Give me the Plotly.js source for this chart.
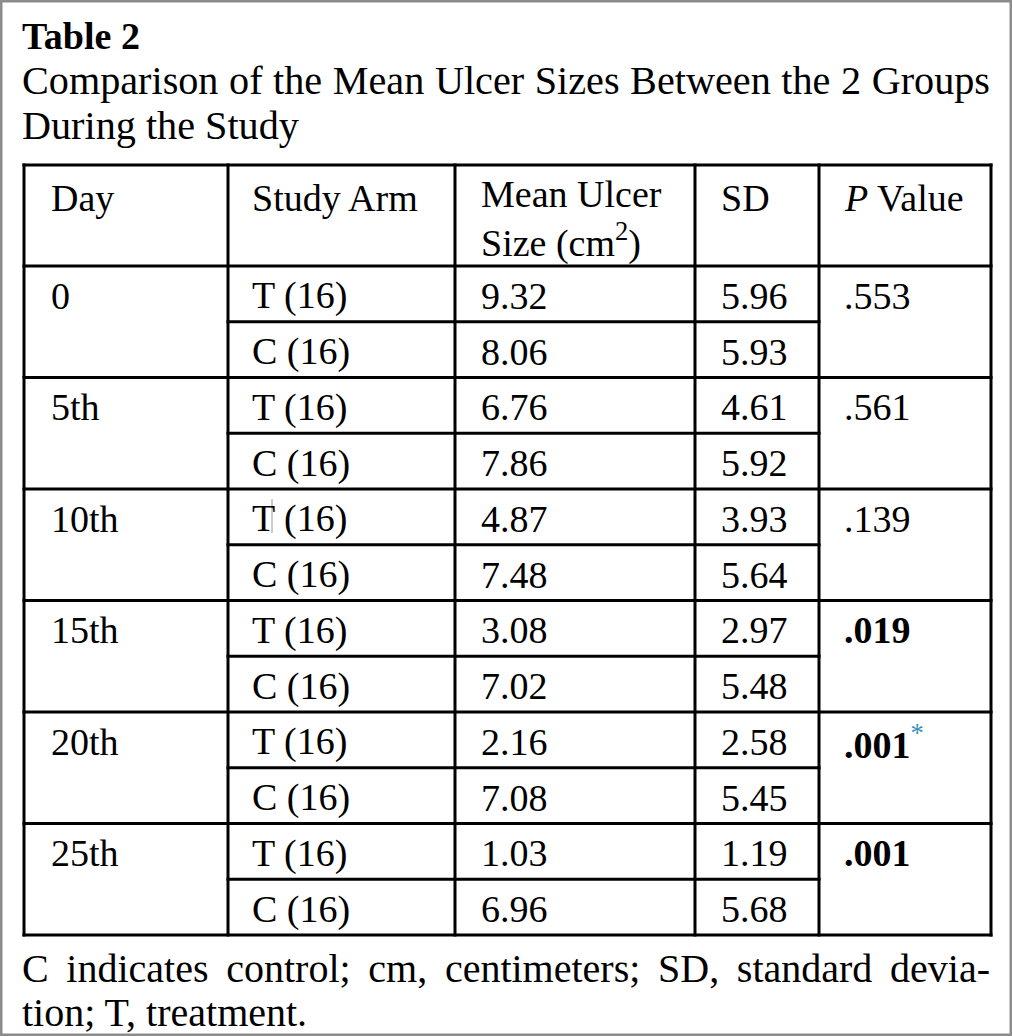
<!DOCTYPE html>
<html>
<head>
<meta charset="utf-8">
<script src="https://cdn.plot.ly/plotly-3.0.1.min.js"></script>
<style>html,body{margin:0;padding:0;background:#fff;}</style>
</head>
<body>
<div id="chart" style="width:1012px;height:1036px;"></div>
<script>
// ---- data ----
var tableLabel = "Table 2";
var titleLines = ["Comparison of the Mean Ulcer Sizes Between the 2 Groups", "During the Study"];
var headers = ["Day", "Study Arm", "Mean Ulcer<br>Size (cm<sup>2</sup>)", "SD", "<i>P</i> Value"];
var days = ["0", "5th", "10th", "15th", "20th", "25th"];
var arms = ["T (16)", "C (16)"];
var meanT = [9.32, 6.76, 4.87, 3.08, 2.16, 1.03];
var meanC = [8.06, 7.86, 7.48, 7.02, 7.08, 6.96];
var sdT = [5.96, 4.61, 3.93, 2.97, 2.58, 1.19];
var sdC = [5.93, 5.92, 5.64, 5.48, 5.45, 5.68];
var pValues = [".553", ".561", ".139", ".019", ".001", ".001"];
var pSignificant = [false, false, false, true, true, true];
var pMark = ["", "", "", "", "*", ""];
var footnoteLines = ["C indicates control; cm, centimeters; SD, standard devia-", "tion; T, treatment."];

// ---- layout geometry ----
var W = 1012, H = 1036;
var colX = [24, 228, 455, 695, 819, 991];
var textX = [49, 250, 479, 719, 842];
var tableTop = 165, headerBottom = 266, rowH = 55.75;
var FONT = "Liberation Serif";
var lineW = 3;

var shapes = [];
var annotations = [];

function ann(x, y, text, size, opts) {
  var a = {x: x, y: y, xref: "x", yref: "y", text: text, showarrow: false,
    xanchor: "left", yanchor: "middle", align: "left",
    font: {family: FONT, size: size, color: "#000"}};
  if (opts) for (var k in opts) a[k] = opts[k];
  annotations.push(a);
  return annotations.length - 1;
}
function hline(x0, x1, y) {
  shapes.push({type: "line", xref: "x", yref: "y", x0: x0 - 1.5, x1: x1 + 1.5, y0: y, y1: y,
    line: {color: "#000", width: lineW}});
}
function vline(x, y0, y1) {
  shapes.push({type: "line", xref: "x", yref: "y", x0: x, x1: x, y0: y0 - 1.5, y1: y1 + 1.5,
    line: {color: "#000", width: lineW}});
}

var nRows = days.length * arms.length;
var tableBottom = headerBottom + nRows * rowH;

// outer grey frame
shapes.push({type: "rect", xref: "paper", yref: "paper", x0: 0, x1: 1, y0: 0, y1: 1,
  line: {color: "#8c8c8c", width: 5}});

// table grid
hline(colX[0], colX[5], tableTop);
hline(colX[0], colX[5], headerBottom);
for (var i = 1; i <= nRows; i++) {
  var y = headerBottom + i * rowH;
  if (i % 2 === 0) hline(colX[0], colX[5], y);
  else hline(colX[1], colX[4], y);
}
for (var c = 0; c < colX.length; c++) vline(colX[c], tableTop, tableBottom);

// small cursor artefact next to "T" in the 10th-day row
shapes.push({type: "line", xref: "x", yref: "y", x0: 272, x1: 272,
  y0: headerBottom + 4 * rowH + 10, y1: headerBottom + 4 * rowH + 44,
  line: {color: "#9a9a9a", width: 1}});

// titles
ann(20, 36, "<b>" + tableLabel + "</b>", 38);
var titleIdx = ann(20, 80, titleLines[0], 40.2);
ann(20, 125, titleLines[1], 40.2);

// headers
ann(textX[0], 198, headers[0], 38);
ann(textX[1], 198, headers[1], 38);
ann(textX[2], 219, headers[2], 38);
ann(textX[3], 198, headers[3], 38);
ann(textX[4], 198, headers[4], 38);

// body
for (var d = 0; d < days.length; d++) {
  var yT = headerBottom + (2 * d) * rowH + rowH / 2 + 2;
  var yC = headerBottom + (2 * d + 1) * rowH + rowH / 2 + 2;
  ann(textX[0], yT, days[d], 38);
  ann(textX[1], yT, arms[0], 38);
  ann(textX[1], yC, arms[1], 38);
  ann(textX[2], yT, meanT[d].toFixed(2), 38);
  ann(textX[2], yC, meanC[d].toFixed(2), 38);
  ann(textX[3], yT, sdT[d].toFixed(2), 38);
  ann(textX[3], yC, sdC[d].toFixed(2), 38);
  var pt = pSignificant[d] ? "<b>" + pValues[d] + "</b>" : pValues[d];
  if (pMark[d]) pt += "<span style=\"color:#3a8fba\"><sup>" + pMark[d] + "</sup></span>";
  ann(textX[4], yT, pt, 38);
}

// footnote
var footIdx = ann(20, 968, footnoteLines[0], 40);
ann(20, 1012, footnoteLines[1], 40);

var layout = {
  width: W, height: H,
  margin: {l: 0, r: 0, t: 0, b: 0, pad: 0},
  paper_bgcolor: "#fff", plot_bgcolor: "#fff",
  showlegend: false,
  xaxis: {range: [0, W], visible: false, fixedrange: true},
  yaxis: {range: [H, 0], visible: false, fixedrange: true},
  shapes: shapes,
  annotations: annotations
};

Plotly.newPlot("chart", [{x: [], y: [], type: "scatter", mode: "markers", hoverinfo: "skip"}], layout,
  {displayModeBar: false, staticPlot: true}).then(function (gd) {
  // justify lines that are justified in the reference
  var groups = gd.querySelectorAll("g.annotation");
  function justify(idx, target) {
    var g = groups[idx];
    if (!g) return;
    var t = g.querySelector("text");
    var w = t.getComputedTextLength();
    var nSpaces = (t.textContent.match(/ /g) || []).length;
    if (nSpaces > 0 && w < target) t.style.wordSpacing = ((target - w) / nSpaces) + "px";
  }
  justify(footIdx, 968);
  justify(titleIdx, 968);
});
</script>
</body>
</html>
